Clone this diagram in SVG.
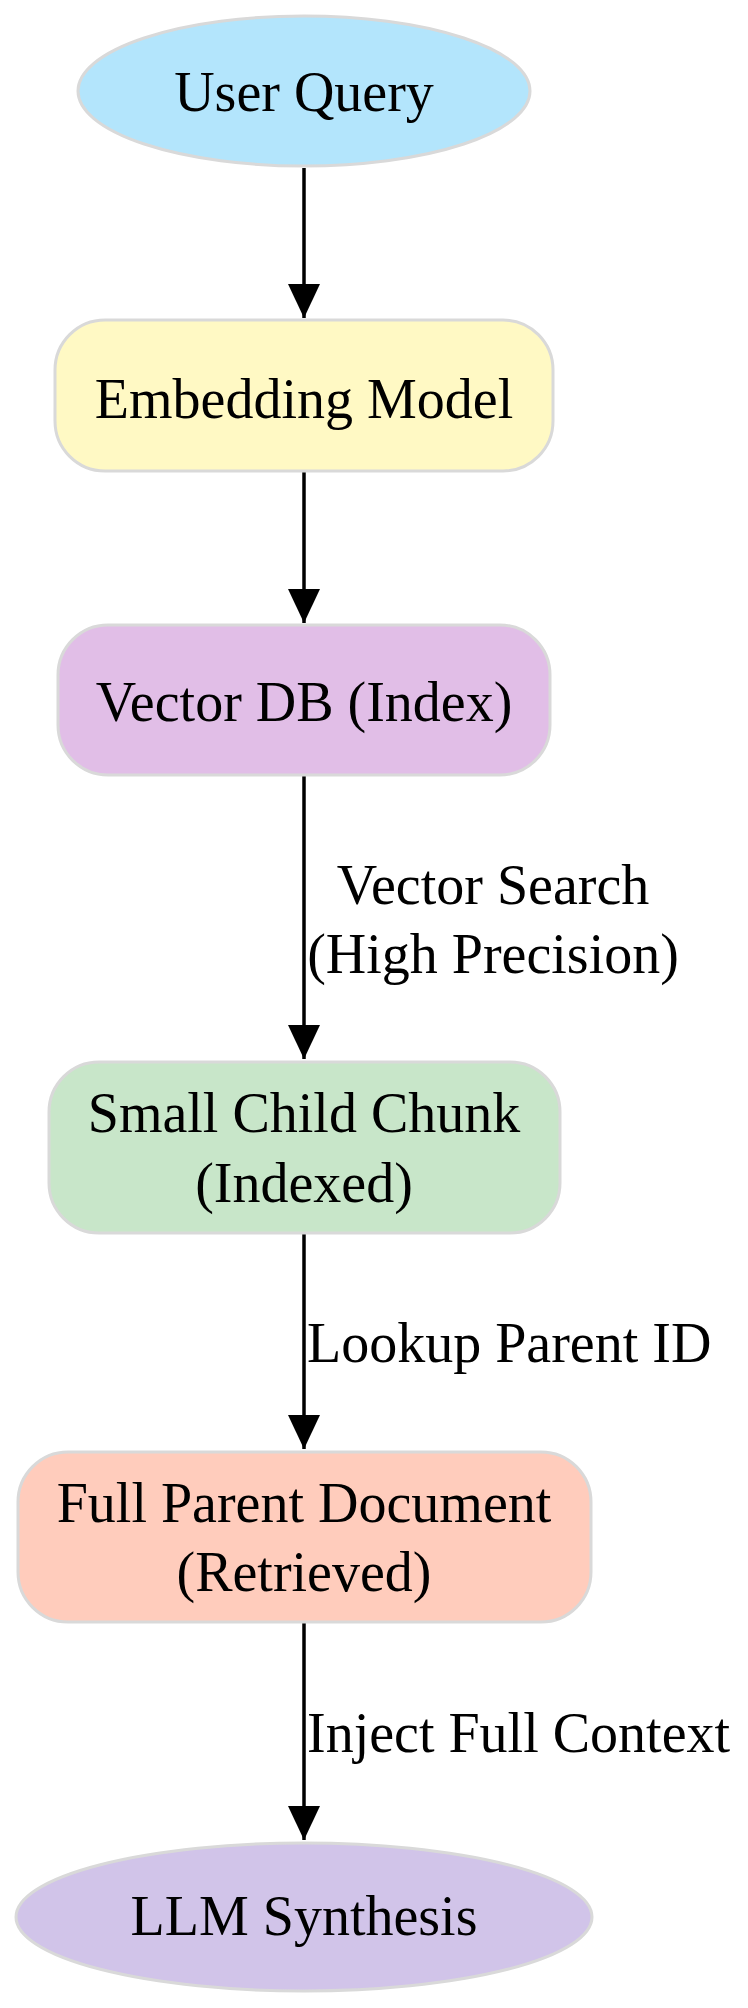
<svg xmlns="http://www.w3.org/2000/svg" width="748" height="2008" viewBox="0 0 748 2008">
<style>
.n{stroke:#d9d9d9;stroke-width:3}
text{font-family:"Liberation Serif","Times New Roman",serif;font-size:56px;fill:#000}
.c{text-anchor:middle}
.e{stroke:#000;stroke-width:3.5;fill:none}
</style>
<defs><marker id="a" markerUnits="userSpaceOnUse" markerWidth="36" markerHeight="50" refX="34" refY="16" orient="auto"><path d="M0,0L34,16L0,32Z" fill="#000"/></marker></defs>
<rect width="748" height="2008" fill="#fff"/>
<g id="edges">
<path class="e" d="M304,168V318" marker-end="url(#a)"/>
<path class="e" d="M304,472V623" marker-end="url(#a)"/>
<path class="e" d="M304,776V1059" marker-end="url(#a)"/>
<path class="e" d="M304,1234V1449" marker-end="url(#a)"/>
<path class="e" d="M304,1623V1840" marker-end="url(#a)"/>
<text x="493" y="904" class="c">Vector Search</text>
<text x="493" y="973" class="c">(High Precision)</text>
<text x="307" y="1362">Lookup Parent ID</text>
<text x="307" y="1752">Inject Full Context</text>
</g>
<g id="user"><ellipse class="n" cx="304" cy="91" rx="226" ry="75" fill="#b3e5fc"/><text x="304" y="111" class="c">User Query</text></g>
<g id="embed"><rect class="n" x="55" y="320" width="498" height="151" rx="50" fill="#fff9c4"/><text x="304" y="418" class="c">Embedding Model</text></g>
<g id="vdb"><rect class="n" x="58" y="625" width="492" height="150" rx="50" fill="#e1bee7"/><text x="304" y="721" class="c">Vector DB (Index)</text></g>
<g id="child"><rect class="n" x="49" y="1062" width="511" height="171" rx="50" fill="#c8e6c9"/><text x="304" y="1132" class="c">Small Child Chunk</text><text x="304" y="1202" class="c">(Indexed)</text></g>
<g id="parent"><rect class="n" x="18" y="1452" width="573" height="170" rx="50" fill="#ffccbc"/><text x="304" y="1522" class="c">Full Parent Document</text><text x="304" y="1591" class="c">(Retrieved)</text></g>
<g id="llm"><ellipse class="n" cx="304" cy="1917" rx="288" ry="74" fill="#d1c4e9"/><text x="304" y="1935" class="c">LLM Synthesis</text></g>
</svg>
